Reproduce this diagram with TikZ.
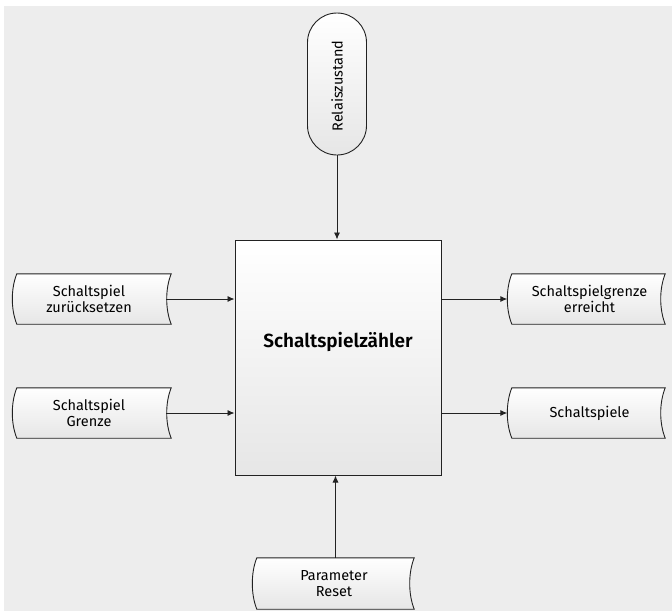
\documentclass[tikz,border=0pt]{standalone}
\usepackage{fontspec}
\setmainfont{Fira Sans}
\newfontfamily\headfont{Fira Sans SemiBold}
\usetikzlibrary{arrows.meta,calc}

\definecolor{canvas}{HTML}{EDEDED}
\definecolor{ink}{HTML}{222222}
\definecolor{shadelo}{HTML}{E6E6E6}

\tikzset{
  anchorbox/.style={rectangle,inner sep=0pt,align=center,font=\fontsize{14.5}{16.5}\selectfont},
  datashape/.style={draw=ink,line width=0.9pt,top color=white,bottom color=shadelo},
  flow/.style={draw=ink,line width=0.9pt,-{Latex[length=7pt,width=6pt]}},
}

% stored-data outline: straight top and bottom, both sides bowed to the left
\newcommand\storedshape[1]{%
  \path[datashape] (#1.north west) -- (#1.north east)
    .. controls +(-6,15) and +(-6,-15) .. (#1.south east)
    -- (#1.south west)
    .. controls +(-6,-15) and +(-6,15) .. (#1.north west) -- cycle;}

\begin{document}
\begin{tikzpicture}[x=1pt,y=-1pt]
  \useasboundingbox (0,0) rectangle (672,611);
  \fill[canvas] (4,6) rectangle (672,611);

  % central function block
  \node[rectangle,draw=ink,line width=1pt,top color=white,bottom color=shadelo,
        minimum width=206pt,minimum height=235pt,inner sep=0pt] (main) at (338,357.5) {};
  \node[font=\fontsize{19}{22}\headfont] (mainlbl) at (338,342) {Schaltspielzähler};

  % relay state terminal
  \node[rectangle,rounded corners=29.5pt,draw=ink,line width=0.9pt,top color=white,bottom color=shadelo,
        minimum width=59pt,minimum height=142pt,inner sep=0pt] (relais) at (337,84) {};
  \node[rotate=90,font=\fontsize{14.5}{16}\selectfont] (relaislbl) at (337,86) {Relaiszustand};

  % inputs and outputs
  \node[anchorbox,minimum width=154pt,minimum height=50pt] (reset) at (94,299) {};
  \node[anchorbox,minimum width=154pt,minimum height=50pt] (limit) at (94,413) {};
  \node[anchorbox,minimum width=153pt,minimum height=50pt] (reached) at (588.5,299) {};
  \node[anchorbox,minimum width=153pt,minimum height=50pt] (count) at (588.5,413) {};
  \node[anchorbox,minimum width=157pt,minimum height=51pt] (param) at (335.5,583.5) {};

  \storedshape{reset}
  \storedshape{limit}
  \storedshape{reached}
  \storedshape{count}
  \storedshape{param}

  \node[anchorbox] (resetlbl) at ([xshift=-5pt]reset.center) {Schaltspiel\\zurücksetzen};
  \node[anchorbox] (limitlbl) at ([xshift=-5pt]limit.center) {Schaltspiel\\Grenze};
  \node[anchorbox] (reachedlbl) at ([xshift=1pt]reached.center) {Schaltspielgrenze\\erreicht};
  \node[anchorbox] (countlbl) at ([xshift=1pt]count.center) {Schaltspiele};
  \node[anchorbox] (paramlbl) at ([xshift=-1.5pt]param.center) {Parameter\\Reset};

  % connectors
  \draw[flow] (relais.south) -- (relais.south |- main.north);
  \draw[flow] ([xshift=-5pt]reset.east) -- (reset.east -| main.west);
  \draw[flow] ([xshift=-5pt]limit.east) -- (limit.east -| main.west);
  \draw[flow] (main.east |- reached.west) -- ([xshift=-4.5pt]reached.west);
  \draw[flow] (main.east |- count.west) -- ([xshift=-4.5pt]count.west);
  \draw[flow] (param.north) -- (param.north |- main.south);
\end{tikzpicture}
\end{document}
